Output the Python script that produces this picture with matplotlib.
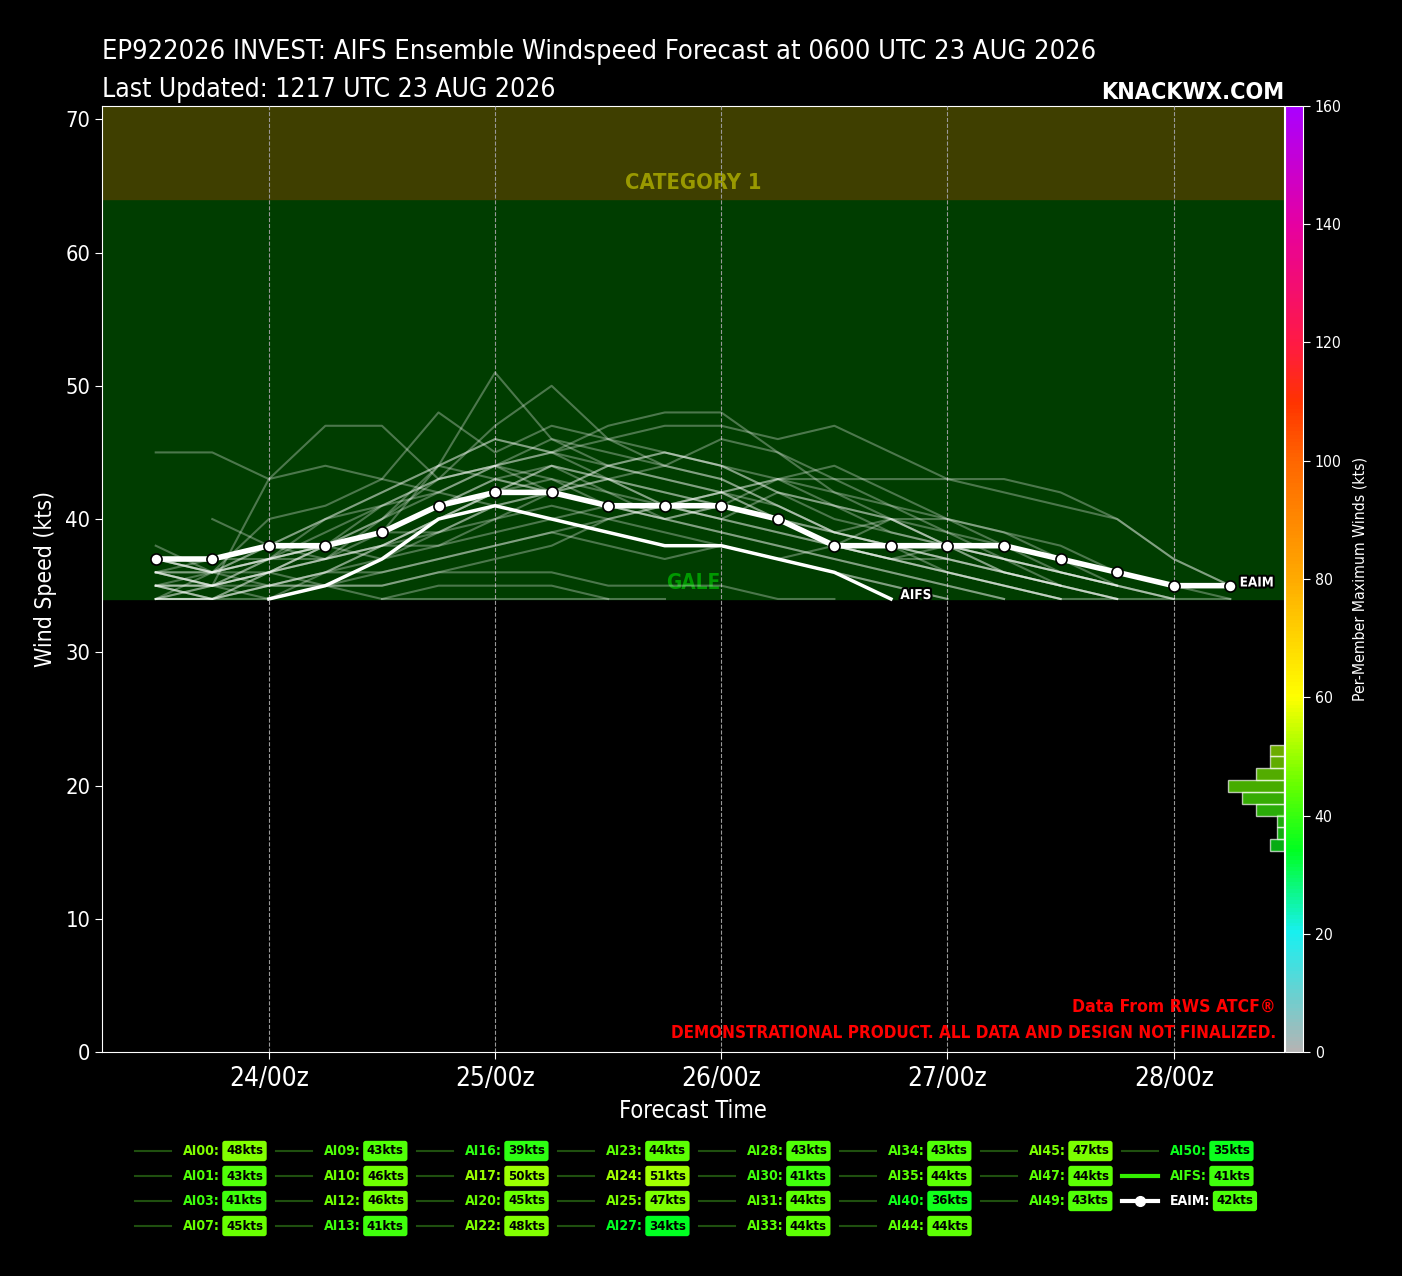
import numpy as np
import matplotlib
matplotlib.use("Agg")
import matplotlib.pyplot as plt
import matplotlib.patheffects as pe
from matplotlib.colors import LinearSegmentedColormap, Normalize
from matplotlib.lines import Line2D
from matplotlib.cm import ScalarMappable

plt.rcParams['font.family'] = ['DejaVu Sans']
plt.rcParams['font.stretch'] = 'condensed'

# forecast hours after 23/00z
hours = [12, 18, 24, 30, 36, 42, 48, 54, 60, 66, 72, 78, 84, 90, 96, 102, 108, 114, 120, 126]
day_ticks = [24, 48, 72, 96, 120]
day_labels = ["24/00z", "25/00z", "26/00z", "27/00z", "28/00z"]

N = np.nan
member_names = ["AI00", "AI01", "AI03", "AI07", "AI09", "AI10", "AI12", "AI13", "AI16", "AI17",
                "AI20", "AI22", "AI23", "AI24", "AI25", "AI27", "AI28", "AI30", "AI31", "AI33",
                "AI34", "AI35", "AI40", "AI44", "AI45", "AI47", "AI49", "AI50"]
member_max = [48, 43, 41, 45, 43, 46, 46, 41, 39, 50, 45, 48, 44, 51, 47, 34, 43, 41, 44, 44,
              43, 44, 36, 44, 47, 44, 43, 35]
member_winds = [
    [37, 36, 38, 40, 42, 44, 46, 45, 47, 48, 48, 45, 42, 40, 38, 36, 35, 34, N, N],
    [36, 35, 37, 38, 39, 41, 43, 42, 41, 40, 39, 38, 37, 36, 35, 34, N, N, N, N],
    [35, 34, 35, 36, 37, 39, 41, 40, 39, 38, 38, 37, 36, 35, 34, N, N, N, N, N],
    [45, 45, 43, 44, 43, 42, 41, 42, 41, 40, 39, 38, 37, 36, 35, 34, N, N, N, N],
    [34, 35, 36, 37, 38, 40, 42, 43, 41, 40, 41, 40, 38, 37, 37, 36, 35, 34, 34, N],
    [38, 36, 37, 39, 41, 43, 44, 46, 45, 44, 46, 45, 43, 41, 39, 37, 36, 35, 34, N],
    [N, 40, 38, 37, 39, 44, 46, 45, 44, 45, 44, 43, 41, 40, 38, 37, 36, 35, N, N],
    [36, 35, 34, 36, 38, 39, 40, 41, 40, 39, 38, 37, 38, 37, 36, 35, 34, 34, N, N],
    [34, 34, 35, 36, 36, 37, 38, 39, 38, 37, 38, 37, 36, 35, 34, N, N, N, N, N],
    [35, 34, 36, 38, 40, 43, 47, 50, 46, 44, 43, 41, 39, 38, 37, 36, 35, N, N, N],
    [36, 36, 37, 38, 41, 43, 44, 45, 43, 42, 41, 40, 39, 40, 38, 37, 35, 34, N, N],
    [37, 36, 40, 41, 43, 48, 45, 47, 46, 45, 44, 42, 40, 39, 38, 36, 35, N, N, N],
    [34, 35, 37, 40, 42, 44, 43, 42, 43, 44, 43, 41, 39, 38, 37, 36, 35, 34, N, N],
    [35, 35, 36, 37, 40, 44, 51, 46, 44, 43, 42, 40, 38, 37, 36, 35, 34, N, N, N],
    [36, 35, 43, 47, 47, 43, 44, 42, 44, 45, 44, 42, 41, 39, 38, 37, 36, 35, N, N],
    [34, 34, N, N, 34, 34, 34, 34, 34, 34, N, N, N, N, N, N, N, N, N, N],
    [35, 35, 35, 35, 35, 36, 37, 38, 40, 41, 42, 43, 42, 41, 40, 39, 38, 36, 35, 34],
    [36, 37, 37, 37, 38, 38, 39, 40, 41, 41, 40, 39, 38, 37, 36, 35, 34, N, N, N],
    [35, 34, 36, 38, 37, 38, 40, 42, 44, 43, 42, 40, 38, 37, 38, 37, 36, 35, N, N],
    [34, 36, 38, 40, 41, 42, 44, 43, 42, 41, 42, 41, 39, 38, 36, 35, 34, N, N, N],
    [37, 36, 36, 35, 36, 37, 38, 39, 40, 41, 42, 43, 43, 43, 43, 43, 42, 40, 37, 35],
    [35, 35, 36, 37, 38, 40, 42, 44, 43, 42, 41, 40, 39, 38, 37, N, N, N, N, N],
    [34, 34, 34, 35, 35, 36, 36, 36, 35, 35, 35, 34, 34, N, N, N, N, N, N, N],
    [36, 35, 36, 38, 39, 41, 43, 44, 42, 40, 41, 43, 44, 42, 40, 38, 36, 35, 34, N],
    [36, 36, 37, 38, 40, 42, 44, 45, 46, 47, 47, 46, 47, 45, 43, 42, 41, 40, 37, 35],
    [37, 36, 35, 36, 38, 40, 42, 44, 43, 41, 40, 42, 41, 40, 39, 38, 37, N, N, N],
    [35, 36, 37, 38, 39, 39, 41, 42, 43, 41, 40, 39, 38, 40, 40, 39, 37, 35, 34, 34],
    [34, 34, 35, 35, 34, 35, 35, 35, 34, N, N, N, N, N, N, N, N, N, N, N],
]

aifs_winds = [N, N, 34, 35, 37, 40, 41, 40, 39, 38, 38, 37, 36, 34, N, N, N, N, N, N]
aifs_max = 41
eaim_winds = [37, 37, 38, 38, 39, 41, 42, 42, 41, 41, 41, 40, 38, 38, 38, 38, 37, 36, 35, 35]
eaim_max = 42

W, H = 1402, 1276
fig = plt.figure(figsize=(W / 100, H / 100), dpi=100, facecolor="black")
renderer = fig.canvas.get_renderer()


def fx(px):
    return px / W


def fy(py):
    return 1 - py / H


def fit(t, width_px):
    # shrink/grow a text so it spans the same width as in the original
    w = t.get_window_extent(renderer).width
    t.set_fontsize(t.get_fontsize() * width_px / w)
    return t


def size_for(s, width_px, **kw):
    t = fig.text(0, 0, s, fontsize=20, **kw)
    size = 20 * width_px / t.get_window_extent(renderer).width
    t.remove()
    return size


wind_cmap = LinearSegmentedColormap.from_list("winds", [
    (0.0, "#b4b4b4"), (20 / 160, "#18f0f0"), (34 / 160, "#00ff20"), (45 / 160, "#66ff00"),
    (60 / 160, "#ffff00"), (80 / 160, "#ffaa00"), (100 / 160, "#ff6600"), (110 / 160, "#ff3300"),
    (120 / 160, "#ff1a44"), (140 / 160, "#e600a0"), (1.0, "#aa00ff")])
norm = Normalize(0, 160)

ax = fig.add_axes([fx(102), fy(1052), fx(1182), 946 / H])
ax.set_facecolor("black")
ax.axhspan(34, 64, color="#003d00", zorder=0)
ax.axhspan(64, 83, color="#3f3f00", zorder=0)
fit(ax.text(0.5, 65.2, "CATEGORY 1", transform=ax.get_yaxis_transform(), ha="center",
            va="center", color="#999900", fontsize=19, fontweight="bold", zorder=1), 136)
fit(ax.text(0.5, 35.2, "GALE", transform=ax.get_yaxis_transform(), ha="center", va="center",
            color="#009900", fontsize=19, fontweight="bold", zorder=1), 54)

for w in member_winds:
    ax.plot(hours, w, color="white", alpha=0.3, lw=1.5, zorder=3)
ax.plot(hours, aifs_winds, color="white", lw=2.5, zorder=4)
ax.plot(hours, eaim_winds, color="white", lw=4, marker="o", markersize=8,
        markerfacecolor="white", markeredgecolor="black", markeredgewidth=1.2, zorder=5)

stroke = [pe.withStroke(linewidth=3, foreground="black")]
last_aifs = max(i for i, v in enumerate(aifs_winds) if not np.isnan(v))
fit(ax.text(hours[last_aifs] + 1, aifs_winds[last_aifs] + 0.3, "AIFS", color="white",
            fontsize=11, fontweight="bold", va="center", ha="left", path_effects=stroke,
            zorder=6), 31)
fit(ax.text(hours[-1] + 1, eaim_winds[-1] + 0.2, "EAIM", color="white", fontsize=11,
            fontweight="bold", va="center", ha="left", path_effects=stroke, zorder=6), 34)

ax.set_ylim(0, 71)
ax.set_yticks(range(0, 71, 10))
ax.set_xticks(day_ticks)
ax.set_xticklabels(day_labels)
ax.grid(axis="x", color="#999999", linestyle="--", lw=0.8, zorder=2)
ax.set_axisbelow(False)
ax.tick_params(colors="white", length=5)
ax.tick_params(axis="y", labelsize=size_for("70", 25))
ax.tick_params(axis="x", labelsize=size_for("24/00z", 80), pad=5)
for s in ax.spines.values():
    s.set_color("white")
ax.set_xlabel("Forecast Time", color="white", fontsize=size_for("Forecast Time", 148), labelpad=5)
ax.set_ylabel("Wind Speed (kts)", color="white", fontsize=size_for("Wind Speed (kts)", 176),
              labelpad=6)

fit(ax.text(0.9932, 0.048, "Data From RWS ATCF\u00ae", transform=ax.transAxes, ha="right",
            va="center", color="red", fontsize=15, fontweight="bold", zorder=7), 204)
fit(ax.text(0.9932, 0.02, "DEMONSTRATIONAL PRODUCT. ALL DATA AND DESIGN NOT FINALIZED.",
            transform=ax.transAxes, ha="right", va="center", color="red", fontsize=15,
            fontweight="bold", zorder=7), 609)

# histogram of per-member maxima on the colorbar scale
all_max = member_max + [aifs_max, eaim_max]
counts, edges = np.histogram(all_max, bins=np.arange(34, 54, 2))
axh = fig.add_axes(ax.get_position())
axh.patch.set_visible(False)
axh.set_ylim(0, 160)
axh.set_xlim(1182 / 7, 0)
axh.barh(edges[:-1], counts, height=2, align="edge",
         color=[wind_cmap(norm(c + 1)) for c in edges[:-1]], alpha=0.68,
         edgecolor=(1, 1, 1, 0.3), lw=1)
axh.axis("off")

cax = fig.add_axes([fx(1285), fy(1052), fx(18), 946 / H])
cb = fig.colorbar(ScalarMappable(norm=norm, cmap=wind_cmap), cax=cax)
cb.set_ticks(range(0, 161, 20))
cb.outline.set_edgecolor("white")
cax.tick_params(colors="white", labelsize=size_for("160", 27), length=5)
cb.set_label("Per-Member Maximum Winds (kts)", color="white",
             fontsize=size_for("Per-Member Maximum Winds (kts)", 244), labelpad=8)

fit(fig.text(fx(102), fy(59), "EP922026 INVEST: AIFS Ensemble Windspeed Forecast at 0600 UTC 23 AUG 2026",
             color="white", fontsize=25, ha="left", va="baseline"), 995)
fit(fig.text(fx(102), fy(97), "Last Updated: 1217 UTC 23 AUG 2026",
             color="white", fontsize=25, ha="left", va="baseline"), 454)
fit(fig.text(fx(1284), fy(99), "KNACKWX.COM", color="white", fontsize=24, fontweight="bold",
             ha="right", va="baseline"), 184)

# legend, column-major with 4 rows
entries = [(n, m, "member") for n, m in zip(member_names, member_max)]
entries += [("AIFS", aifs_max, "aifs"), ("EAIM", eaim_max, "eaim")]
col_sizes = [4, 4, 4, 4, 4, 4, 3, 3]
row_y = [1151, 1176, 1201, 1226]
name_size = size_for("AI00:", 37, fontweight="bold")
badge_size = size_for("48kts", 37, fontweight="bold")
k = 0
for c, size in enumerate(col_sizes):
    x0 = 135 + c * 141
    for r in range(size):
        name, val, kind = entries[k]
        k += 1
        y = fy(row_y[r])
        if kind == "member":
            fig.add_artist(Line2D([fx(x0), fx(x0 + 36)], [y, y], color="#1f4f0f", lw=1.5))
            tcol = wind_cmap(norm(val))
        elif kind == "aifs":
            fig.add_artist(Line2D([fx(x0), fx(x0 + 36)], [y, y], color="#33ee00", lw=3))
            tcol = wind_cmap(norm(val))
        else:
            fig.add_artist(Line2D([fx(x0), fx(x0 + 18), fx(x0 + 36)], [y, y, y], color="white",
                                  lw=3, marker="o", markersize=7, markevery=[1]))
            tcol = "white"
        lab = fig.text(fx(x0 + 48), y, name + ":", color=tcol, fontsize=name_size,
                       fontweight="bold", ha="left", va="center")
        lab_end = lab.get_window_extent(renderer).x1
        bx = max(x0 + 89, lab_end + 6)
        fig.text(fx(bx), y, f"{val}kts", color="black", fontsize=badge_size,
                 fontweight="bold", ha="left", va="center",
                 bbox=dict(boxstyle="round,pad=0.28,rounding_size=0.2", fc=wind_cmap(norm(val)),
                           ec="none"))

fig.savefig("out.png", dpi=100, facecolor="black")
